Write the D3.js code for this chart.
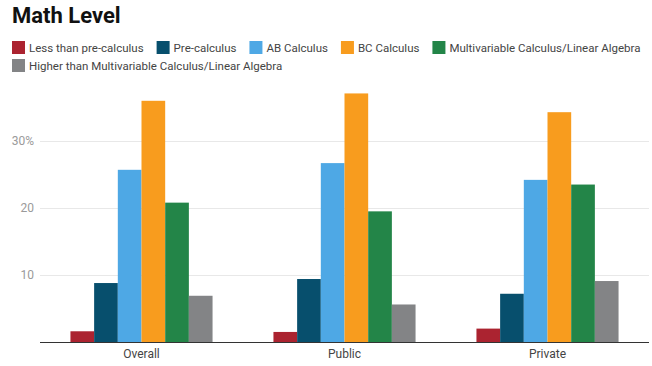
<!DOCTYPE html>
<html lang="en">
<head>
    <meta charset="UTF-8">
    <title>Math Level</title>
    <script src="https://d3js.org/d3.v7.min.js"></script>
    <style>
        body {
            margin: 0;
            background: #fff;
            font-family: Roboto, "Noto Sans", Arial, sans-serif;
        }
        .grid line { stroke: #e8e8e8; }
        .y-label { fill: #9a9a9a; font-size: 12px; }
        .x-label { fill: #444; font-size: 12px; }
        .legend text { fill: #444; font-size: 11.5px; }
    </style>
</head>
<body>
    <svg width="652" height="366"></svg>

    <script>
        // Chart data
        const groups = ["Overall", "Public", "Private"];
        const seriesNames = [
            "Less than pre-calculus",
            "Pre-calculus",
            "AB Calculus",
            "BC Calculus",
            "Multivariable Calculus/Linear Algebra",
            "Higher than Multivariable Calculus/Linear Algebra"
        ];
        const lessThanPre = [1.6, 1.5, 2.0];
        const preCalc = [8.8, 9.4, 7.2];
        const abCalc = [25.7, 26.7, 24.2];
        const bcCalc = [36.0, 37.1, 34.3];
        const multiLinear = [20.8, 19.5, 23.5];
        const higher = [6.9, 5.6, 9.1];
        const yTicks = [10, 20, 30];
        const colors = ["#ab2330", "#074f6d", "#4ea8e5", "#f89c1e", "#238548", "#838486"];

        const seriesValues = [lessThanPre, preCalc, abCalc, bcCalc, multiLinear, higher];

        const svg = d3.select("svg");
        const margin = { top: 74, right: 3, bottom: 24, left: 40 };
        const width = +svg.attr("width");
        const height = +svg.attr("height");

        // Title
        svg.append("text")
            .attr("x", 12)
            .attr("y", 23)
            .attr("font-size", 22)
            .attr("font-weight", "bold")
            .attr("fill", "#111")
            .text("Math Level");

        // Legend, flowed in rows
        const legend = svg.append("g").attr("class", "legend");
        let lx = 12, ly = 41;
        const maxX = width - 6;
        seriesNames.forEach((name, i) => {
            const item = legend.append("g");
            item.append("rect").attr("width", 13).attr("height", 13).attr("fill", colors[i]);
            const t = item.append("text").attr("x", 17).attr("y", 11).text(name);
            const w = 17 + t.node().getComputedTextLength();
            if (lx + w > maxX) { lx = 12; ly += 18; }
            item.attr("transform", `translate(${lx},${ly})`);
            lx += w + 13;
        });

        // Scales
        const x0 = d3.scaleBand()
            .domain(groups)
            .range([margin.left, width - margin.right])
            .paddingInner(0.3)
            .paddingOuter(0.15);

        const x1 = d3.scaleBand()
            .domain(d3.range(seriesNames.length))
            .range([0, x0.bandwidth()]);

        const y = d3.scaleLinear()
            .domain([0, 40])
            .range([height - margin.bottom, margin.top]);

        // Gridlines
        svg.append("g").attr("class", "grid")
            .selectAll("line")
            .data(yTicks)
            .join("line")
            .attr("x1", margin.left)
            .attr("x2", width - margin.right)
            .attr("y1", d => Math.round(y(d)) + 0.5)
            .attr("y2", d => Math.round(y(d)) + 0.5);

        // Y labels
        svg.append("g")
            .selectAll("text")
            .data(yTicks)
            .join("text")
            .attr("class", "y-label")
            .attr("x", 34)
            .attr("y", d => y(d))
            .attr("dy", "0.35em")
            .attr("text-anchor", "end")
            .text((d, i) => i === yTicks.length - 1 ? d + "%" : d);

        // Bars
        const groupG = svg.append("g")
            .selectAll("g")
            .data(groups)
            .join("g")
            .attr("transform", d => `translate(${x0(d)},0)`);

        groupG.selectAll("rect")
            .data((g, gi) => seriesValues.map((vals, si) => ({ si, v: vals[gi] })))
            .join("rect")
            .attr("x", d => x1(d.si))
            .attr("width", x1.bandwidth())
            .attr("y", d => y(d.v))
            .attr("height", d => y(0) - y(d.v))
            .attr("fill", d => colors[d.si]);

        // Baseline
        svg.append("line")
            .attr("x1", margin.left)
            .attr("x2", width - margin.right)
            .attr("y1", Math.round(y(0)) + 0.5)
            .attr("y2", Math.round(y(0)) + 0.5)
            .attr("stroke", "#333")
            .attr("stroke-width", 1);

        // X labels
        svg.append("g")
            .selectAll("text")
            .data(groups)
            .join("text")
            .attr("class", "x-label")
            .attr("x", d => x0(d) + x0.bandwidth() / 2)
            .attr("y", 358)
            .attr("text-anchor", "middle")
            .text(d => d);
    </script>
</body>
</html>
